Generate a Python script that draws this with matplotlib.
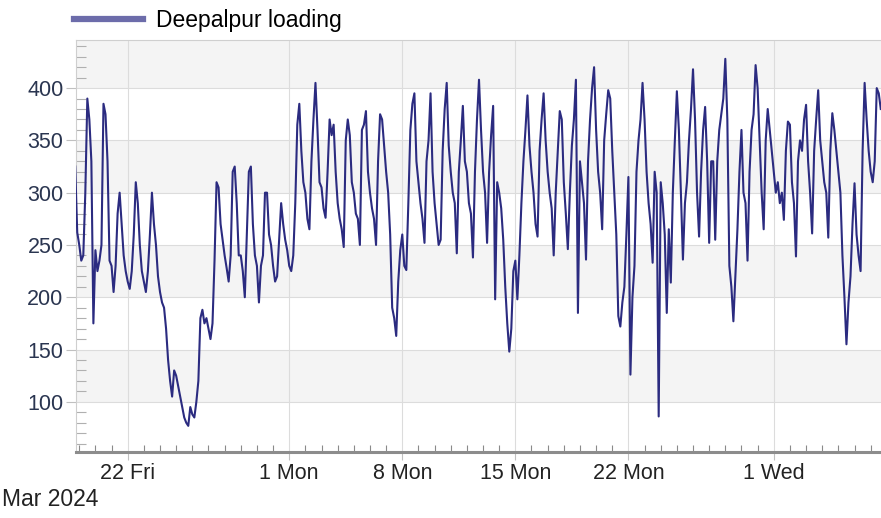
import matplotlib
matplotlib.use("Agg")
import matplotlib.pyplot as plt
import matplotlib.dates as mdates
from matplotlib.lines import Line2D
import pandas as pd

plt.rcParams['font.family'] = ['Liberation Sans', 'DejaVu Sans']

# feeder load, one reading every 3 hours starting 18 Mar 18:00
start = '2024-03-18 18:00'
load = [
    325, 262,
    250, 235, 240, 300, 390, 370, 330, 175,   # Mar 19
    245, 225, 235, 250, 385, 375, 330, 235,   # Mar 20
    230, 205, 230, 280, 300, 270, 240, 225,
    215, 208, 225, 260, 310, 290, 250, 225,
    215, 205, 225, 260, 300, 270, 250, 220,
    205, 195, 190, 170, 140, 120, 105, 130,
    125, 115, 105, 95, 85, 80, 77, 95,        # Mar 25
    88, 85, 100, 120, 180, 188, 175, 180,
    170, 160, 175, 235, 310, 305, 270, 255,
    240, 228, 215, 240, 320, 325, 290, 240,
    240, 225, 200, 260, 320, 325, 270, 240,
    230, 195, 230, 240, 300, 300, 260, 250,
    230, 215, 220, 255, 290, 270, 255, 245,   # Mar 31
    230, 225, 240, 290, 365, 385, 340, 310,   # Apr 1
    300, 275, 265, 330, 370, 405, 360, 310,
    305, 285, 276, 320, 370, 355, 365, 320,
    290, 275, 265, 248, 350, 370, 355, 310,
    300, 280, 275, 250, 360, 365, 378, 320,
    300, 285, 275, 250, 330, 375, 370, 345,
    320, 300, 260, 190, 180, 163, 215, 245,   # Apr 7
    260, 230, 226, 290, 360, 385, 395, 330,
    310, 290, 275, 252, 330, 350, 395, 320,
    290, 270, 250, 255, 340, 380, 405, 345,
    320, 300, 290, 242, 320, 350, 383, 330,
    320, 290, 280, 238, 320, 370, 408, 360,
    320, 300, 252, 320, 355, 383, 198, 310,
    300, 285, 255, 210, 175, 148, 170, 225,   # Apr 14
    235, 198, 240, 290, 330, 360, 393, 345,
    320, 300, 270, 258, 340, 370, 395, 350,
    320, 300, 285, 240, 300, 340, 378, 370,
    310, 280, 246, 300, 345, 370, 408, 185,
    330, 310, 290, 236, 330, 370, 400, 420,
    360, 320, 300, 265, 350, 375, 398, 390,
    340, 300, 260, 182, 172, 195, 210, 260,   # Apr 21
    315, 126, 200, 230, 320, 350, 370, 405,
    370, 320, 290, 270, 233, 320, 300, 86,
    310, 290, 260, 185, 265, 214, 300, 350,
    397, 360, 300, 236, 290, 310, 350, 380,
    418, 370, 300, 258, 320, 360, 382, 330,
    252, 330, 330, 255, 330, 360, 375, 390,
    428, 370, 230, 210, 177, 220, 265, 320,   # Apr 28
    360, 300, 290, 235, 320, 360, 375, 422,
    400, 350, 300, 265, 350, 380, 360, 340,
    320, 300, 310, 290, 300, 274, 340, 368,   # May 1
    365, 310, 290, 239, 330, 350, 340, 370,
    384, 330, 300, 261, 340, 370, 398, 350,
    330, 310, 300, 257, 340, 376, 360, 340,
    320, 300, 240, 200, 155, 195, 220, 270,
    309, 260, 240, 225, 340, 405, 370, 340,
    320, 310, 330, 400, 395, 380,             # May 7
]
times = pd.date_range(start, periods=len(load), freq='3h')

tick_dates = ['2024-03-22', '2024-04-01', '2024-04-08', '2024-04-15',
              '2024-04-22', '2024-05-01']
tick_labels = ['22 Fri', '1 Mon', '8 Mon', '15 Mon', '22 Mon', '1 Wed']
y_ticks = [100, 150, 200, 250, 300, 350, 400]

W, H = 881, 518
fig = plt.figure(figsize=(W / 100, H / 100), dpi=100)
ax = fig.add_axes([76 / W, 1 - 452 / H, 1 - 76 / W, (452 - 40) / H])

# shaded horizontal bands
for lo in (100, 200, 300, 400):
    ax.axhspan(lo, lo + 50, color='#f4f4f4', zorder=0, lw=0)

ax.plot(times, load, color='#2b2b80', lw=1.5, zorder=3)

ax.set_xlim(pd.Timestamp('2024-03-18 19:10'), pd.Timestamp('2024-05-07 15:20'))
ax.set_ylim(52, 446)

ax.set_xticks(pd.to_datetime(tick_dates))
ax.set_xticklabels(tick_labels)
ax.xaxis.set_minor_locator(mdates.DayLocator())
ax.set_yticks(y_ticks)
ax.yaxis.set_minor_locator(matplotlib.ticker.MultipleLocator(10))

ax.grid(True, which='major', color='#dcdcdc', lw=0.8, zorder=1)
ax.tick_params(axis='x', which='major', direction='out', length=6, width=0.8,
               color='#c0c0c0', pad=2, labelsize=15.5, labelcolor='#222222')
ax.tick_params(axis='x', which='minor', direction='in', length=5, width=0.8,
               color='#8a8a8a')
ax.tick_params(axis='y', which='major', direction='out', length=7, width=0.8,
               color='#c0c0c0', pad=2, labelsize=15.5, labelcolor='#2a3550')
ax.tick_params(axis='y', which='minor', direction='in', length=7, width=0.8,
               color='#b0b0b0')

for side in ('top', 'left'):
    ax.spines[side].set_color('#cfcfcf')
    ax.spines[side].set_linewidth(0.8)
ax.spines['right'].set_visible(False)
ax.spines['bottom'].set_color('#8c8c8c')
ax.spines['bottom'].set_linewidth(2.2)

handle = Line2D([], [], color='#6c6caa', lw=4.5)
fig.legend([handle], ['Deepalpur loading'], loc='center left',
           bbox_to_anchor=(74 / W, 1 - 21 / H), frameon=False,
           borderpad=0, borderaxespad=0, handlelength=3.0,
           handletextpad=0.6, fontsize=16.5)

fig.text(2 / W, 1 - 506 / H, 'Mar 2024', fontsize=16.5, color='#222222',
         va='baseline')

fig.savefig('out.png', dpi=100)
